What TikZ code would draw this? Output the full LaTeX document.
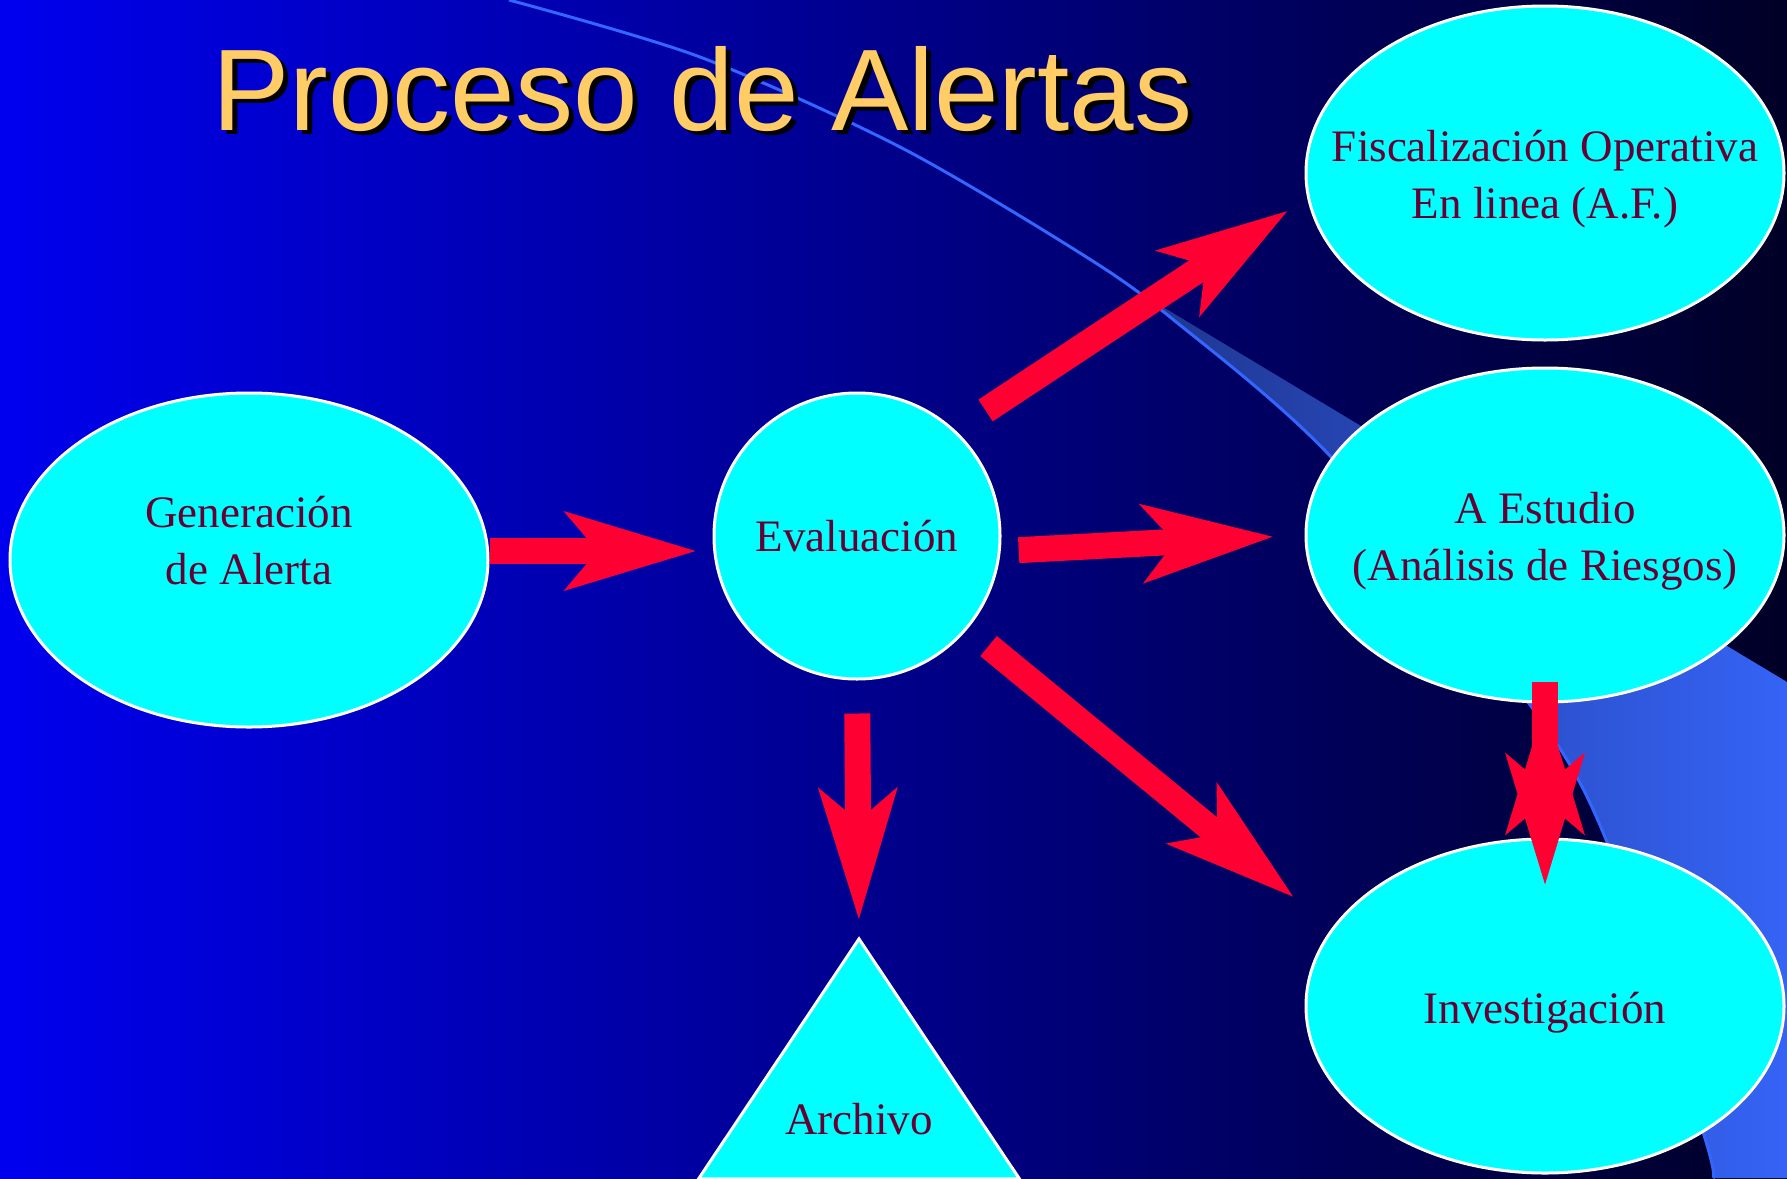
\documentclass[tikz,border=0pt]{standalone}
\usepackage{fontspec}
\setmainfont{Liberation Serif}
\newfontfamily\titlefont{Liberation Sans}
\usetikzlibrary{shapes.geometric,arrows.meta}

\definecolor{fondoizq}{RGB}{0,0,238}
\definecolor{fondomed}{RGB}{0,0,165}
\definecolor{fondoder}{RGB}{0,0,38}
\definecolor{franjaizq}{RGB}{30,52,140}
\definecolor{franjader}{RGB}{53,99,245}
\definecolor{arco}{RGB}{51,102,255}
\definecolor{cian}{RGB}{0,255,255}
\definecolor{granate}{RGB}{102,0,51}
\definecolor{flecharoja}{RGB}{255,0,51}
\definecolor{amarillo}{RGB}{255,204,102}

% texto centrado, subido o bajado sin cambiar la caja
\newcommand{\desplazar}[2]{\raisebox{#1}[\height][\depth]{\begin{tabular}{@{}c@{}}#2\end{tabular}}}

\begin{document}
\begin{tikzpicture}[x=1pt,y=-1pt,
    caja/.style={draw=white, line width=3pt, fill=cian, text=granate, align=center,
        font=\fontsize{45}{57}\selectfont},
    ovalo/.style={caja, ellipse, inner xsep=-70pt, inner ysep=0pt,
        minimum width=478pt, minimum height=334pt},
    flecha/.style={color=flecharoja, line width=26pt,
        -{Stealth[length=132pt,width=80pt,inset=34pt,line width=0pt]}},
    titulotxt/.style={font=\titlefont\fontsize{116}{130}\selectfont,
        inner sep=0pt, anchor=base west}]

\useasboundingbox (0,0) rectangle (1787,1178);
\shade[left color=fondoizq, middle color=fondomed, right color=fondoder]
    (0,0) rectangle (1787,1178);

% franja y arco del fondo
\shade[left color=franjaizq, right color=franjader]
    plot[smooth] coordinates {(1113,277) (1170,317) (1332,458) (1528,702)
        (1607,842) (1703,1132) (1713,1178)}
    -- (1787,1178) -- (1787,682) -- cycle;
\draw[arco, line width=3pt] plot[smooth] coordinates {(509,0) (700,57)
    (900,147) (1080,253) (1170,317) (1332,458) (1528,702)
    (1607,842) (1703,1132) (1713,1178)};

\node[titulotxt, text=black] (sombra) at (217,134) {Proceso de Alertas};
\node[titulotxt, text=amarillo] (titulo) at (212,130) {Proceso de Alertas};

\node[ovalo] (gen) at (249,560) {\desplazar{15pt}{Generación\\de Alerta}};
\node[caja, circle, minimum size=286pt, inner sep=0pt] (eval) at (857,536) {Evaluación};
\node[ovalo] (fisc) at (1545,173) {\desplazar{-6pt}{Fiscalización Operativa\\En linea (A.F.)}};
\node[ovalo] (estudio) at (1545,535) {\desplazar{-6pt}{A Estudio\\(Análisis de Riesgos)}};
\node[ovalo] (invest) at (1545,1006) {\desplazar{-6pt}{Investigación}};
\node[caja, isosceles triangle, isosceles triangle stretches, shape border rotate=90,
    minimum width=321pt, minimum height=240pt, inner sep=0pt, anchor=apex,
    label={[name=archtxt, text=granate, font=\fontsize{45}{57}\selectfont,
        inner sep=0pt, anchor=base, yshift=46pt]270:Archivo}] (arch) at (859,935) {};

\draw[flecha]
    ([yshift=9pt]gen.east) edge[shorten >=17pt] ([yshift=9pt]gen.east -| eval.west)
    (eval.47) edge[shorten <=36pt, shorten >=24pt] (fisc.186)
    (eval.-6) edge[shorten <=18pt, shorten >=32pt] (estudio.west)
    (eval.-40) edge[shorten <=27pt, shorten >=50pt] (invest.160)
    (eval.south) edge[shorten <=33pt, shorten >=16pt] (arch.apex)
    (estudio.south) edge[shorten <=-22pt, shorten >=-47pt] (invest.north);
\end{tikzpicture}
\end{document}
